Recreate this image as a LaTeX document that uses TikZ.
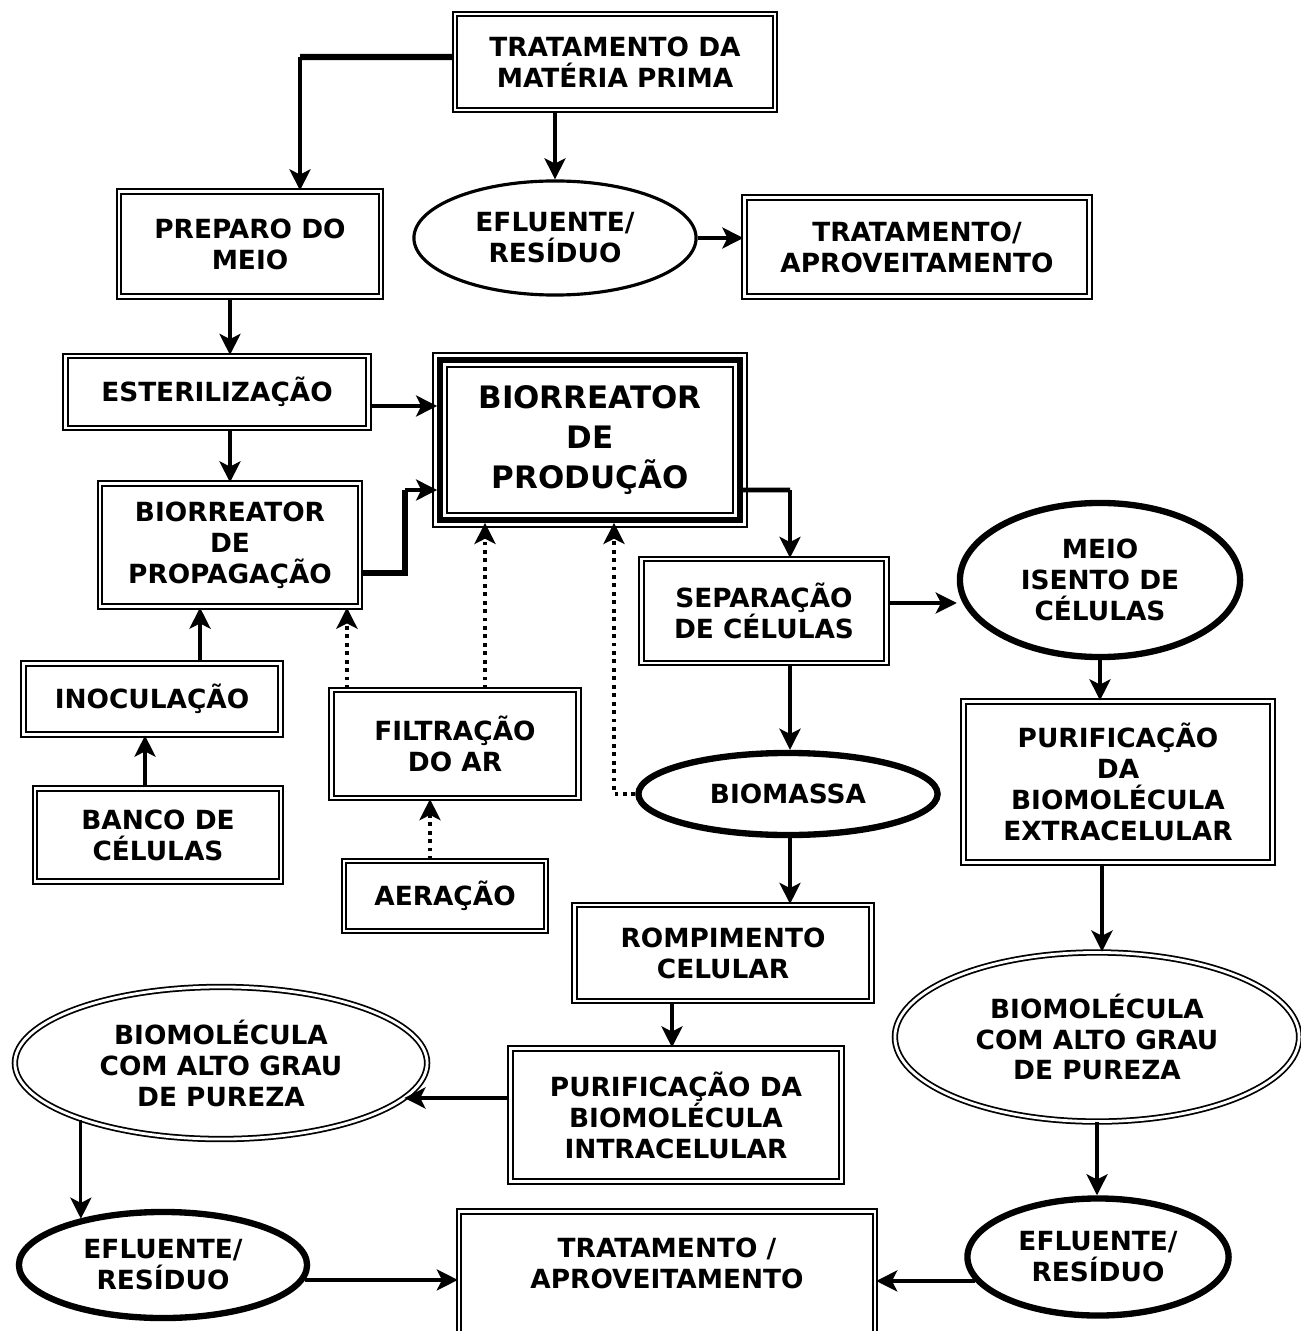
\documentclass[tikz,border=0pt]{standalone}
\usepackage{fontspec}
\setmainfont{DejaVu Sans}
\usetikzlibrary{arrows.meta,shapes.geometric}

\tikzset{
  every node/.style={font=\bfseries\fontsize{7.5}{8.8}\selectfont, align=center, inner sep=0pt},
  box/.style={draw, double, line width=0.6pt, double distance=0.7pt},
  prodbox/.style={draw, line width=1.6pt,
    preaction={draw, line width=4.4pt},
    preaction={draw=white, line width=3.2pt}},
  ell/.style={draw, ellipse, line width=0.9pt},
  thickell/.style={draw, ellipse, line width=1.8pt},
  dblell/.style={draw, ellipse, double, line width=0.5pt, double distance=0.8pt},
  arr/.style={-{Stealth[length=6pt,width=6pt,inset=1.5pt]}, line width=0.9pt},
  heavy/.style={line width=1.8pt},
  dotarr/.style={arr, line width=1.1pt, dash pattern=on 1.1pt off 1.3pt}
}

\begin{document}
\begin{tikzpicture}[x=0.01cm, y=-0.01cm]
    \clip (0,0) rectangle (1301,1331);
    \fill[white] (0,0) rectangle (1301,1331);

    % Top row
    \node[box, minimum width=3.2cm, minimum height=0.96cm] (trat) at (615,62) {TRATAMENTO DA\\MATÉRIA PRIMA};
    \node[box, minimum width=2.62cm, minimum height=1.05cm] (prep) at (250,244) {PREPARO DO\\MEIO};
    \node[ell, minimum width=2.82cm, minimum height=1.14cm] (eflu1) at (555,238) {EFLUENTE/\\RESÍDUO};
    \node[box, minimum width=3.45cm, minimum height=0.99cm] (trat2) at (917,247) {TRATAMENTO/\\APROVEITAMENTO};

    % Bioreactors
    \node[box, minimum width=3.03cm, minimum height=0.72cm] (ester) at (217,392) {ESTERILIZAÇÃO};
    \node[prodbox, minimum width=3.0cm, minimum height=1.6cm, font=\bfseries\fontsize{8.8}{11.4}\selectfont] (bprod) at (590,440) {BIORREATOR\\DE\\PRODUÇÃO};
    \node[box, minimum width=2.6cm, minimum height=1.23cm] (bprop) at (230,545) {BIORREATOR\\DE\\PROPAGAÇÃO};
    \node[box, minimum width=2.45cm, minimum height=1.04cm] (sep) at (764,611) {SEPARAÇÃO\\DE CÉLULAS};
    \node[thickell, minimum width=2.8cm, minimum height=1.54cm] (meio) at (1100,580) {MEIO\\ISENTO DE\\CÉLULAS};

    % Inoculum and air
    \node[box, minimum width=2.57cm, minimum height=0.71cm] (inoc) at (152,699) {INOCULAÇÃO};
    \node[box, minimum width=2.47cm, minimum height=1.08cm] (filt) at (455,744) {FILTRAÇÃO\\DO AR};
    \node[box, minimum width=2.46cm, minimum height=0.93cm] (banco) at (158,835) {BANCO DE\\CÉLULAS};
    \node[box, minimum width=2.02cm, minimum height=0.70cm] (aera) at (445,896) {AERAÇÃO};
    \node[thickell, minimum width=2.99cm, minimum height=0.82cm] (biom) at (788,794) {BIOMASSA};
    \node[box, minimum width=3.09cm, minimum height=1.61cm] (purext) at (1118,782) {PURIFICAÇÃO\\DA\\BIOMOLÉCULA\\EXTRACELULAR};

    % Downstream
    \node[box, minimum width=2.97cm, minimum height=0.96cm] (romp) at (723,953) {ROMPIMENTO\\CELULAR};
    \node[box, minimum width=3.31cm, minimum height=1.33cm] (purint) at (676,1115) {PURIFICAÇÃO DA\\BIOMOLÉCULA\\INTRACELULAR};
    \node[dblell, minimum width=4.12cm, minimum height=1.52cm] (bmol1) at (221,1063) {BIOMOLÉCULA\\COM ALTO GRAU\\DE PUREZA};
    \node[dblell, minimum width=4.04cm, minimum height=1.69cm] (bmol2) at (1097,1037) {BIOMOLÉCULA\\COM ALTO GRAU\\DE PUREZA};
    \node[thickell, minimum width=2.88cm, minimum height=1.06cm] (eflu2) at (163,1265) {EFLUENTE/\\RESÍDUO};
    \node[thickell, minimum width=2.61cm, minimum height=1.17cm] (eflu3) at (1098,1257) {EFLUENTE/\\RESÍDUO};
    \node[box, minimum width=4.16cm, minimum height=1.25cm] (trat3) at (667,1274) {};
    \node (trat3txt) at (667,1263) {TRATAMENTO /\\APROVEITAMENTO};

    % Connectors, upper part
    \coordinate (k0) at (300,57);
    \draw[heavy] ([yshift=0.05cm]trat.west) -- (k0);
    \draw[arr] (k0) -- (k0 |- prep.north);
    \draw[arr] (trat.south -| eflu1.north) -- (eflu1.north);
    \draw[arr] (eflu1.east) -- (eflu1.east -| trat2.west);
    \draw[arr] ([xshift=-0.2cm]prep.south) -- ([xshift=-0.2cm]prep.south |- ester.north);
    \draw[arr] ([yshift=-0.14cm]ester.east) -- ([yshift=-0.14cm]ester.east -| bprod.west);
    \draw[arr] (ester.south -| bprop.north) -- (bprop.north);

    % bioreactors to separation
    \coordinate (k1) at (405,490);
    \draw[heavy] ([yshift=-0.28cm]bprop.east) -| (k1);
    \draw[arr] (k1) -- (k1 -| bprod.west);
    \coordinate (k2) at (790,490);
    \draw[line width=1.4pt] ([yshift=-0.5cm]bprod.east) -- (k2);
    \draw[arr] (k2) -- (k2 |- sep.north);
    \draw[arr] ([yshift=0.08cm]sep.east) -- ([yshift=0.08cm]sep.east -| meio.west);
    \draw[arr] (k2 |- sep.south) -- (k2 |- biom.north);
    \draw[arr] (meio.south) -- (meio.south |- purext.north);

    % inoculum and air lines
    \draw[arr, line width=1.1pt] ([xshift=0.48cm]inoc.north) -- ([xshift=0.48cm]inoc.north |- bprop.south);
    \draw[arr, line width=1.1pt] ([xshift=-0.13cm]banco.north) -- ([xshift=-0.13cm]banco.north |- inoc.south);
    \draw[dotarr] ([xshift=-1.08cm]filt.north) -- ([xshift=-1.08cm]filt.north |- bprop.south);
    \draw[dotarr] ([xshift=0.3cm]filt.north) -- ([xshift=0.3cm]filt.north |- bprod.south);
    \draw[dotarr] (biom.west) -| ([xshift=0.24cm]bprod.south);
    \draw[dotarr] ([xshift=-0.15cm]aera.north) -- ([xshift=-0.15cm]aera.north |- filt.south);

    % Downstream connectors
    \draw[arr] (k2 |- biom.south) -- (k2 |- romp.north);
    \draw[arr] ([xshift=-0.51cm]romp.south) -- ([xshift=-0.51cm]romp.south |- purint.north);
    \coordinate (q1) at ([yshift=0.17cm]purint.west);
    \draw[arr] (q1) -- (q1 -| bmol1.-11);
    \draw[arr] ([xshift=-0.16cm]purext.south) -- ([xshift=-0.16cm]purext.south |- bmol2.north);
    \draw[arr] (bmol1.202.6) -- (bmol1.202.6 |- eflu2.151);
    \draw[arr] (bmol2.south) -- (bmol2.south |- eflu3.north);
    \draw[arr] (eflu2.-6) -- (eflu2.-6 -| trat3.west);
    \draw[arr] (eflu3.191) -- (eflu3.191 -| trat3.east);
\end{tikzpicture}
\end{document}
